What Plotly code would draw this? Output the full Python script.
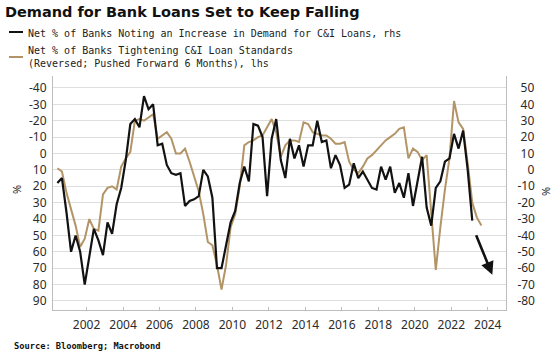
import plotly.graph_objects as go

# ---------------- data ----------------
# quarterly observations, first one in Q2 2000
start_year = 2000.4
step = 0.25

# Net % of banks noting an increase in demand for C&I loans (right axis)
demand_rhs = [-8, -5, -26, -50, -40, -50, -70, -53, -36, -43, -52, -32, -39, -21, -11, 6,
              28, 31, 26, 45, 37, 40, 15, 16, 3, -2, -3, -2, -22, -19, -18, -16, 0, -4,
              -17, -60, -60, -46, -32, -25, -8, 2, -7, 28, 27, 20, -16, 19, 31, 6, -5,
              19, 7, 15, 2, 15, 15, 30, 17, 18, 1, 9, 3, -11, -9, 4, -5, -1, -6, -11,
              -12, 2, -6, 2, -14, -8, -17, -2, -22, -8, 8, -23, -34, -11, -7, 5, 7, 22,
              13, 24, 0, -31]

# Net % of banks tightening C&I loan standards (reversed, pushed forward 6 months; left axis)
tightening_lhs = [9, 11, 24, 34, 44, 57, 52, 40, 46, 47, 25, 21, 20, 22, 8, 3, -1, -20, -21,
                  -20, -22, -24, -9, -11, -13, -9, 0, 0, -3, 5, 14, 23, 37, 54, 56, 68, 83,
                  68, 45, 37, 20, -5, -7, -8, -10, -11, -16, -21, -13, 2, -5, -8, -8, -7,
                  -19, -18, -13, -12, -11, -11, -9, -6, -6, -7, 5, 10, 12, 8, 3, 1, -2, -5,
                  -8, -10, -12, -15, -16, 3, -3, -1, 4, 1, 35, 71, 45, 22, 3, -32, -19, -15,
                  6, 30, 39, 44]

years_demand = [round(start_year + step * i, 2) for i in range(len(demand_rhs))]
years_tight = [round(start_year + step * i, 2) for i in range(len(tightening_lhs))]

x_ticks = list(range(2002, 2025, 2))
lhs_ticks = [-40, -30, -20, -10, 0, 10, 20, 30, 40, 50, 60, 70, 80, 90]
rhs_ticks = [50, 40, 30, 20, 10, 0, -10, -20, -30, -40, -50, -60, -70, -80]

# projection arrow (left-axis units)
arrow_from = (2023.33, 49)
arrow_to = (2024.25, 74)

# ---------------- styling ----------------
BLACK = "#121212"
TAN = "#b39467"
GRID = "#dedede"
AXIS = "#bdbdbd"
TXT = "#2b2b2b"
TICK_FONT = dict(family="Noto Sans, Liberation Sans, sans-serif", size=12, color=TXT)
MONO = "DejaVu Sans Mono, monospace"


def pad_right(v):
    s = str(abs(v))
    minus = "-" if v < 0 else "\u2008"
    return "\u2007" * (2 - len(s)) + minus + s


fig = go.Figure()
fig.add_trace(go.Scatter(x=years_tight, y=tightening_lhs, mode="lines",
                         line=dict(color=TAN, width=2), yaxis="y", showlegend=False))
fig.add_trace(go.Scatter(x=years_demand, y=demand_rhs, mode="lines",
                         line=dict(color=BLACK, width=2.2), yaxis="y2", showlegend=False))

W, H = 553, 355
L, R, T, B = 53, 47, 76, 45
pw, ph = W - L - R, H - T - B

def px_x(p):
    return (p - L) / pw

def px_y(p):
    return (H - B - p) / ph

fig.update_layout(
    width=W, height=H,
    margin=dict(l=L, r=R, t=T, b=B, autoexpand=False),
    paper_bgcolor="white", plot_bgcolor="white",
    title=dict(text="<b>Demand for Bank Loans Set to Keep Falling</b>",
               font=dict(family="DejaVu Sans, sans-serif", size=14.5, color="#111"),
               x=5 / W, xanchor="left", xref="container",
               y=1 - 12 / H, yanchor="middle", yref="container"),
    xaxis=dict(range=[2000.16, 2025.0], tickvals=x_ticks, ticktext=[str(v) for v in x_ticks],
               showgrid=False, zeroline=False, showline=True, linecolor=AXIS, linewidth=1,
               ticks="inside", ticklen=3, tickcolor=AXIS, tickfont=TICK_FONT,
               ticklabelstandoff=4, mirror=False),
    yaxis=dict(range=[95.5, -47.3], tickvals=lhs_ticks, ticktext=[str(v) for v in lhs_ticks],
               showgrid=True, gridcolor=GRID, gridwidth=1, zeroline=False,
               showline=True, linecolor=AXIS, linewidth=1, ticks="",
               tickfont=TICK_FONT, ticklabelstandoff=3),
    yaxis2=dict(range=[-85.5, 57.3], tickvals=rhs_ticks, ticktext=[pad_right(v) for v in rhs_ticks],
                overlaying="y", side="right", showgrid=False, zeroline=False,
                showline=True, linecolor=AXIS, linewidth=1, ticks="",
                tickfont=TICK_FONT, ticklabelstandoff=8),
)

# dashed zero line on left axis
fig.add_hline(y=0, yref="y", line=dict(color="white", width=1.5), layer="below")
fig.add_hline(y=0, yref="y", line=dict(color="#a8a8a8", width=1, dash="dash"), layer="below")

# projection arrow
fig.add_annotation(x=arrow_to[0], y=arrow_to[1], ax=arrow_from[0], ay=arrow_from[1],
                   xref="x", yref="y", axref="x", ayref="y", text="", showarrow=True,
                   arrowhead=2, arrowsize=1, arrowwidth=2.6, arrowcolor=BLACK)

# legend (drawn manually to match reference)
fig.add_shape(type="line", xref="paper", yref="paper", x0=px_x(9), x1=px_x(23),
              y0=px_y(32), y1=px_y(32), line=dict(color=BLACK, width=2))
fig.add_shape(type="line", xref="paper", yref="paper", x0=px_x(9), x1=px_x(23),
              y0=px_y(57), y1=px_y(57), line=dict(color=TAN, width=2))
fig.add_annotation(xref="paper", yref="paper", x=px_x(26), y=px_y(33), xanchor="left",
                   yanchor="middle", showarrow=False, align="left",
                   text="Net % of Banks Noting an Increase in Demand for C&I Loans, rhs",
                   font=dict(family=MONO, size=10, color="#222"))
fig.add_annotation(xref="paper", yref="paper", x=px_x(26), y=px_y(57), xanchor="left",
                   yanchor="middle", showarrow=False, align="left",
                   text="Net % of Banks Tightening C&I Loan Standards<br>(Reversed; Pushed Forward 6 Months), lhs",
                   font=dict(family=MONO, size=10, color="#222"))

# axis unit labels
fig.add_annotation(xref="paper", yref="paper", x=px_x(16), y=px_y(190), xanchor="center",
                   showarrow=False, text="%", textangle=-90,
                   font=dict(family="Noto Sans, sans-serif", size=11, color=TXT))
fig.add_annotation(xref="paper", yref="paper", x=px_x(545), y=px_y(192), xanchor="center",
                   showarrow=False, text="%", textangle=-90,
                   font=dict(family="Noto Sans, sans-serif", size=11, color=TXT))

# source
fig.add_annotation(xref="paper", yref="paper", x=px_x(12), y=px_y(346), xanchor="left",
                   yanchor="middle", showarrow=False,
                   text="<b>Source: Bloomberg; Macrobond</b>",
                   font=dict(family=MONO, size=8.7, color="#111"))

fig.write_html("out.html", post_script="document.body.style.margin='0';",
               config={"displayModeBar": False})
